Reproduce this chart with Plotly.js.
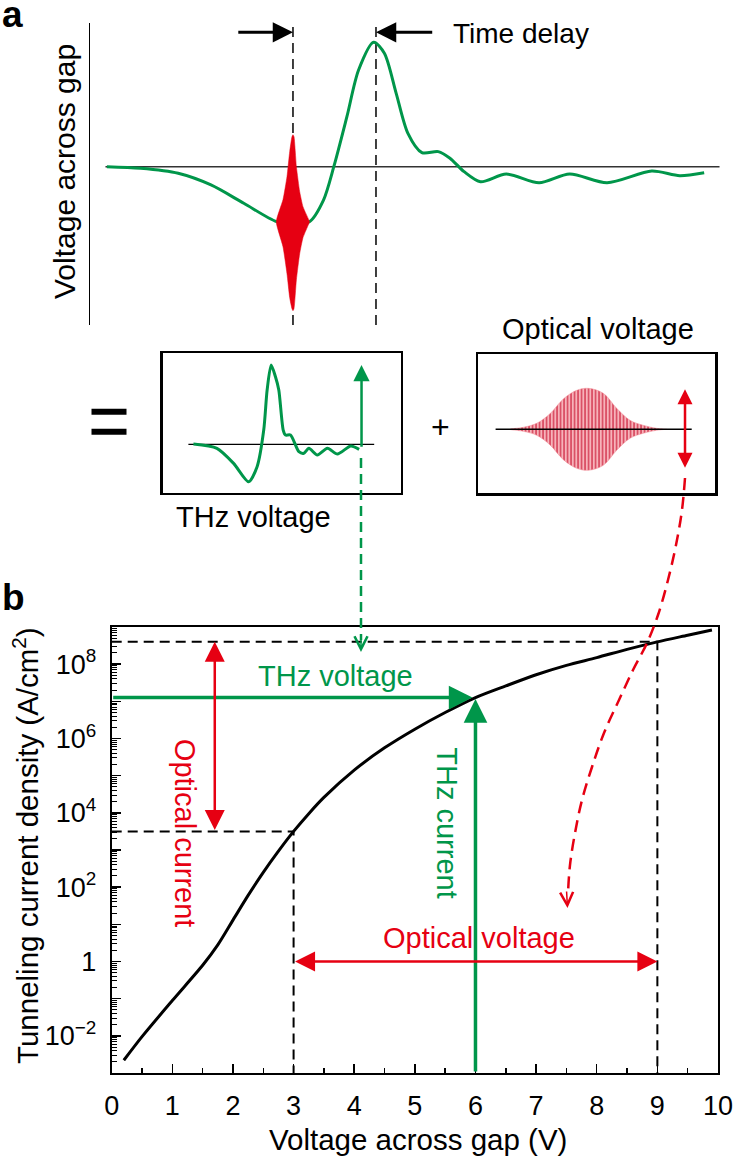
<!DOCTYPE html>
<html>
<head>
<meta charset="utf-8">
<script src="https://cdn.plot.ly/plotly-3.0.1.min.js"></script>
<style>
  html, body { margin: 0; padding: 0; background: #fff; }
  #chart { width: 735px; height: 1159px; }
</style>
</head>
<body>
<div id="chart"></div>
<script>
// ---- panel a: voltage across the gap vs time (arbitrary units) ----
const gapT = [2.62, 7.84, 13.67, 18.76, 23.84, 28.93, 31.47, 34.02, 36.2, 37.8, 39.83, 41.64, 43.98, 45.64, 47.47, 49.29, 51.46, 54.0, 55.81, 58.0, 60.54, 64.54, 69.63, 74.36, 80.17, 87.09, 91.44, 95.22];
const gapV = [0, -0.013, -0.053, -0.147, -0.294, -0.442, -0.46, -0.442, -0.268, 0, 0.402, 0.777, 1.0, 0.912, 0.59, 0.268, 0.113, 0.121, 0.068, -0.04, -0.121, -0.059, -0.129, -0.059, -0.129, -0.035, -0.072, -0.048];

// optical burst riding on the THz field (envelope)
const burstT = [28.88, 29.92, 30.54, 30.96, 31.31, 31.47, 31.63, 32.0, 32.51, 33.02, 34.06];
const burstUpper = [-0.442, -0.265, -0.08, 0.121, 0.241, 0.257, 0.241, 0.0, -0.201, -0.321, -0.442];
const burstLower = [-0.442, -0.643, -0.86, -1.053, -1.141, -1.157, -1.141, -0.908, -0.699, -0.571, -0.442];

// optical pulse time and THz peak time (time delay markers)
const delayT = [31.47, 44.34];

// ---- inset: THz voltage ----
const thzInsetT = [12.91, 22.78, 29.79, 36.12, 39.66, 42.45, 43.88, 45.57, 47.38, 48.78, 50.63, 51.6, 53.71, 57.22, 59.32, 61.43, 64.98, 69.2, 73.42, 79.03, 82.53];
const thzInsetV = [0.004, -0.05, -0.24, -0.472, -0.282, 0.18, 0.685, 1.0, 0.852, 0.685, 0.18, 0.117, 0.117, -0.093, -0.113, -0.05, -0.135, -0.05, -0.122, -0.021, -0.063];

// ---- inset: optical voltage envelope ----
const optT = [13.39, 19.01, 24.67, 30.29, 35.91, 41.57, 46.47, 52.81, 58.47, 64.09, 69.71, 75.37, 79.59];
const optEnv = [0, 0.049, 0.146, 0.38, 0.74, 0.951, 1.0, 0.878, 0.512, 0.22, 0.098, 0.024, 0];

// ---- panel b: tunneling current density vs voltage ----
const biasV = [0.2, 0.5, 1.0, 1.5, 1.75, 2.0, 2.25, 2.5, 2.75, 3.0, 3.25, 3.5, 4.0, 4.5, 5.0, 5.5, 6.0, 6.5, 7.0, 7.5, 8.0, 8.5, 9.0, 9.5, 9.9];
const currentJ = [2.2e-3, 9.5e-3, 8.9e-2, 7.9e-1, 2.8, 1.3e1, 6.0e1, 2.5e2, 9.3e2, 3.16e3, 9.5e3, 2.6e4, 1.41e5, 5.6e5, 1.78e6, 5.0e6, 1.26e7, 2.6e7, 5.2e7, 9.3e7, 1.5e8, 2.5e8, 3.98e8, 6.0e8, 8.3e8];

const thzBias = {v: 6, j: 1.26e7};
const opticalSwingV = [3, 9];
const opticalSwingJ = [3.16e3, 3.98e8];

const yTickDecades = [-2, -1, 0, 1, 2, 3, 4, 5, 6, 7, 8];
const yTickLabels = ['10<sup>\u22122</sup>', '', '1', '', '10<sup>2</sup>', '', '10<sup>4</sup>', '', '10<sup>6</sup>', '', '10<sup>8</sup>'];

const FONT = 'Liberation Sans, Arial, Helvetica, sans-serif';
const BLACK = '#000000';
const GREEN = '#00964a';
const RED = '#e60012';
const DASH = '10px,6px';

const W = 735, H = 1159;
const px = (x) => x / W;
const py = (y) => 1 - y / H;

const yBottom = Math.log10(1e-3);

const minorY = [];
for (let d = -3; d <= 8; d++) {
    for (let k = 2; k <= 9; k++) minorY.push(k * Math.pow(10, d));
}

const traces = [
    // panel a
    {x: [2.4, 97.6], y: [0, 0], xaxis: 'x', yaxis: 'y', mode: 'lines',
     line: {color: '#333333', width: 1.5}},
    {x: [delayT[0], delayT[0], null, delayT[1], delayT[1]],
     y: [-1.2725, 1.1576, null, -1.2725, 1.1576], xaxis: 'x', yaxis: 'y', mode: 'lines',
     line: {color: BLACK, width: 1.5, dash: DASH}},
    {x: gapT, y: gapV, xaxis: 'x', yaxis: 'y', mode: 'lines',
     line: {color: GREEN, width: 3, shape: 'spline', smoothing: 0.8}},
    {x: burstT.concat(burstT.slice().reverse()),
     y: burstUpper.concat(burstLower.slice().reverse()),
     xaxis: 'x', yaxis: 'y', mode: 'lines', fill: 'toself', fillcolor: RED,
     line: {color: RED, width: 0.5, shape: 'spline', smoothing: 0.5}},

    // THz inset
    {x: [10.8, 88.86], y: [0, 0], xaxis: 'x2', yaxis: 'y2', mode: 'lines',
     line: {color: BLACK, width: 1.3}},
    {x: thzInsetT, y: thzInsetV, xaxis: 'x2', yaxis: 'y2', mode: 'lines',
     line: {color: GREEN, width: 3, shape: 'spline', smoothing: 0.7}},

    // optical inset
    {x: optT.concat(optT.slice().reverse()),
     y: optEnv.concat(optEnv.slice().reverse().map(v => -v)),
     xaxis: 'x3', yaxis: 'y3', mode: 'lines', fill: 'toself',
     fillcolor: '#f6a9b1',
     fillpattern: {shape: '|', fgcolor: '#c8102e', bgcolor: '#f7b3ba', size: 3.5, solidity: 0.3},
     line: {color: '#f08a95', width: 0.5, shape: 'spline'}},
    {x: [7.31, 90.16], y: [0, 0], xaxis: 'x3', yaxis: 'y3', mode: 'lines',
     line: {color: BLACK, width: 1.5}},

    // panel b
    {x: [0, opticalSwingV[1], opticalSwingV[1]], y: [opticalSwingJ[1], opticalSwingJ[1], 1e-3],
     xaxis: 'x4', yaxis: 'y4', mode: 'lines', line: {color: BLACK, width: 2, dash: DASH}},
    {x: [0, opticalSwingV[0], opticalSwingV[0]], y: [opticalSwingJ[0], opticalSwingJ[0], 1e-3],
     xaxis: 'x4', yaxis: 'y4', mode: 'lines', line: {color: BLACK, width: 2, dash: DASH}},
    {x: biasV, y: currentJ, xaxis: 'x4', yaxis: 'y4', mode: 'lines',
     line: {color: BLACK, width: 3, shape: 'spline', smoothing: 0.8}},

    // connectors between insets and panel b (page pixel overlay)
    {x: [361, 361], y: [458, 640], xaxis: 'x5', yaxis: 'y5', mode: 'lines',
     line: {color: GREEN, width: 2.5, dash: DASH}},
    {x: [685, 682, 676, 668, 658, 647, 633, 619, 604, 592, 582, 575, 570, 568],
     y: [478, 510, 545, 580, 615, 643, 670, 700, 733, 767, 800, 833, 865, 893],
     xaxis: 'x5', yaxis: 'y5', mode: 'lines',
     line: {color: RED, width: 2.5, dash: '12px,7px', shape: 'spline'}}
];

const txt = (o) => Object.assign({showarrow: false, font: {family: FONT, size: 29, color: BLACK}}, o);
const arrow = (o) => Object.assign({text: '', showarrow: true, arrowhead: 2, standoff: 0, startstandoff: 0}, o);

const lg = Math.log10;

const annotations = [
    // panel labels
    txt({xref: 'x5', yref: 'y5', x: 0, y: 14, xanchor: 'left', text: '<b>a</b>', font: {family: FONT, size: 37, color: BLACK}}),
    txt({xref: 'x5', yref: 'y5', x: 0, y: 597, xanchor: 'left', text: '<b>b</b>', font: {family: FONT, size: 37, color: BLACK}}),

    // panel a
    txt({xref: 'x5', yref: 'y5', x: 64.5, y: 171.5, textangle: -90, text: 'Voltage across gap', font: {family: FONT, size: 30, color: BLACK}}),
    arrow({xref: 'x', yref: 'y', axref: 'x', ayref: 'y', x: delayT[0], y: 1.08, ax: 22.76, ay: 1.08,
           arrowcolor: BLACK, arrowwidth: 3, arrowsize: 1.35}),
    arrow({xref: 'x', yref: 'y', axref: 'x', ayref: 'y', x: delayT[1], y: 1.08, ax: 53.29, ay: 1.08,
           arrowcolor: BLACK, arrowwidth: 3, arrowsize: 1.35}),
    txt({xref: 'x', yref: 'y', x: 56.0, y: 1.071, xanchor: 'left', text: 'Time delay', font: {family: FONT, size: 28, color: BLACK}}),

    // insets
    txt({xref: 'x5', yref: 'y5', x: 440, y: 427, text: '+', font: {family: FONT, size: 32, color: BLACK}}),
    txt({xref: 'x5', yref: 'y5', x: 253.3, y: 517, text: 'THz voltage'}),
    txt({xref: 'x5', yref: 'y5', x: 598, y: 329, text: 'Optical voltage'}),
    arrow({xref: 'x2', yref: 'y2', axref: 'x2', ayref: 'y2', x: 83.54, y: 1.0, ax: 83.54, ay: -0.05,
           arrowcolor: GREEN, arrowwidth: 2.5, arrowsize: 1.3}),
    arrow({xref: 'x3', yref: 'y3', axref: 'x3', ayref: 'y3', x: 87.33, y: 0.976, ax: 87.33, ay: -0.976,
           arrowside: 'end+start', startarrowhead: 2, arrowcolor: RED, arrowwidth: 2.5,
           arrowsize: 1.2, startarrowsize: 1.2}),
    arrow({xref: 'x5', yref: 'y5', x: 361, y: 652, ax: 0, ay: -18, arrowhead: 5,
           arrowcolor: GREEN, arrowwidth: 1.5, arrowsize: 1.7}),
    arrow({xref: 'x5', yref: 'y5', x: 567.5, y: 908, ax: -1, ay: -18, arrowhead: 5,
           arrowcolor: RED, arrowwidth: 1.5, arrowsize: 1.7}),

    // panel b arrows
    arrow({xref: 'x4', yref: 'y4', axref: 'x4', ayref: 'y4', x: thzBias.v - 0.05, y: lg(thzBias.j),
           ax: 0, ay: lg(thzBias.j), arrowcolor: GREEN, arrowwidth: 3.5, arrowsize: 1.35}),
    arrow({xref: 'x4', yref: 'y4', axref: 'x4', ayref: 'y4', x: thzBias.v, y: lg(thzBias.j) - 0.04,
           ax: thzBias.v, ay: yBottom, arrowcolor: GREEN, arrowwidth: 3.5, arrowsize: 1.35}),
    arrow({xref: 'x4', yref: 'y4', axref: 'x4', ayref: 'y4', x: 1.7, y: lg(opticalSwingJ[1]),
           ax: 1.7, ay: lg(opticalSwingJ[0]), arrowside: 'end+start', startarrowhead: 2,
           arrowcolor: RED, arrowwidth: 2.5, arrowsize: 1.6, startarrowsize: 1.6}),
    arrow({xref: 'x4', yref: 'y4', axref: 'x4', ayref: 'y4', x: opticalSwingV[1], y: 0,
           ax: opticalSwingV[0], ay: 0, arrowside: 'end+start', startarrowhead: 2,
           arrowcolor: RED, arrowwidth: 2.5, arrowsize: 1.6, startarrowsize: 1.6}),

    // panel b labels
    txt({xref: 'x4', yref: 'y4', x: 3.69, y: 7.68, text: 'THz voltage', font: {family: FONT, size: 29, color: GREEN}}),
    txt({xref: 'x4', yref: 'y4', x: 1.21, y: 3.46, textangle: 90, text: 'Optical current', font: {family: FONT, size: 29, color: RED}}),
    txt({xref: 'x4', yref: 'y4', x: 5.54, y: 3.73, textangle: 90, text: 'THz current', font: {family: FONT, size: 29, color: GREEN}}),
    txt({xref: 'x4', yref: 'y4', x: 6.06, y: 0.63, text: 'Optical voltage', font: {family: FONT, size: 29, color: RED}}),

    // panel b axis titles
    txt({xref: 'x5', yref: 'y5', x: 25, y: 846, textangle: -90,
         text: 'Tunneling current density (A/cm<sup>2</sup>)', font: {family: FONT, size: 29.5, color: BLACK}}),
    txt({xref: 'x5', yref: 'y5', x: 418.4, y: 1139.5, text: 'Voltage across gap (V)', font: {family: FONT, size: 29.5, color: BLACK}})
];

const shapes = [
    {type: 'line', xref: 'x5', yref: 'y5', x0: 91.5, x1: 126.5, y0: 411.7, y1: 411.7, line: {color: BLACK, width: 6}},
    {type: 'line', xref: 'x5', yref: 'y5', x0: 91.5, x1: 126.5, y0: 431.7, y1: 431.7, line: {color: BLACK, width: 6}}
];

const hidden = {visible: false, fixedrange: true};
const insetAxis = {showline: true, mirror: true, linecolor: BLACK, linewidth: 2.5, ticks: '',
                   showticklabels: false, showgrid: false, zeroline: false, fixedrange: true};

const layout = {
    width: W, height: H,
    margin: {l: 0, r: 0, t: 0, b: 0},
    paper_bgcolor: '#ffffff',
    plot_bgcolor: 'rgba(0,0,0,0)',
    showlegend: false,
    font: {family: FONT, color: BLACK},

    xaxis: Object.assign({domain: [px(90), 1], range: [0, 100], anchor: 'y'}, hidden),
    yaxis: {domain: [py(325), py(22.7)], range: [-1.2725, 1.1576], anchor: 'x',
            showline: true, linecolor: BLACK, linewidth: 1.5, ticks: '', showticklabels: false,
            showgrid: false, zeroline: false, fixedrange: true},

    xaxis2: Object.assign({domain: [px(162.7), px(400.7)], range: [0, 100], anchor: 'y2'}, insetAxis),
    yaxis2: Object.assign({domain: [py(492.7), py(353.3)], range: [-0.61, 1.148], anchor: 'x2'}, insetAxis),

    xaxis3: Object.assign({domain: [px(478.3), px(715)], range: [0, 100], anchor: 'y3'}, insetAxis),
    yaxis3: Object.assign({domain: [py(493.3), py(354)], range: [-1.561, 1.837], anchor: 'x3'}, insetAxis),

    xaxis4: {domain: [px(111.7), px(718)], range: [0, 10], anchor: 'y4',
             showline: true, mirror: true, linecolor: BLACK, linewidth: 2,
             ticks: 'inside', ticklen: 9, tickwidth: 1.5, tickcolor: BLACK, dtick: 1, tick0: 0,
             minor: {dtick: 0.5, tick0: 0, ticks: 'inside', ticklen: 5, tickwidth: 1.5, tickcolor: BLACK},
             tickfont: {family: FONT, size: 27, color: BLACK}, ticklabelstandoff: 8,
             showgrid: false, zeroline: false, fixedrange: true},
    yaxis4: {domain: [py(1073), py(627)], type: 'log', range: [-3, 9], anchor: 'x4',
             showline: true, mirror: true, linecolor: BLACK, linewidth: 2,
             tickmode: 'array', tickvals: yTickDecades.map(d => Math.pow(10, d)), ticktext: yTickLabels,
             ticks: 'inside', ticklen: 9, tickwidth: 1.5, tickcolor: BLACK,
             minor: {tickmode: 'array', tickvals: minorY, ticks: 'inside', ticklen: 5, tickwidth: 1, tickcolor: BLACK},
             tickfont: {family: FONT, size: 27, color: BLACK}, ticklabelstandoff: 8,
             showgrid: false, zeroline: false, fixedrange: true},

    xaxis5: Object.assign({domain: [0, 1], range: [0, W], anchor: 'y5'}, hidden),
    yaxis5: Object.assign({domain: [0, 1], range: [H, 0], anchor: 'x5'}, hidden),

    annotations: annotations,
    shapes: shapes
};

Plotly.newPlot('chart', traces, layout, {staticPlot: true, displayModeBar: false});
</script>
</body>
</html>
